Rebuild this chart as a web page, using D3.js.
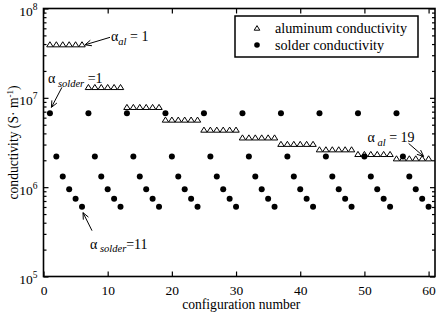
<!DOCTYPE html>
<html><head><meta charset="utf-8">
<script src="https://cdn.jsdelivr.net/npm/d3@7/dist/d3.min.js"></script>
<style>
body{margin:0;background:#fff}
svg{display:block}
svg text{font-family:"Liberation Serif","Times New Roman",Times,serif}
</style>
</head><body>
<svg id="c" width="442" height="314"></svg>
<script>
// ---- data ----
const configNumbers = [1,2,3,4,5,6,7,8,9,10,11,12,13,14,15,16,17,18,19,20,
  21,22,23,24,25,26,27,28,29,30,31,32,33,34,35,36,37,38,39,40,
  41,42,43,44,45,46,47,48,49,50,51,52,53,54,55,56,57,58,59,60];
const aluminumConductivity = [
  3.97e7,3.97e7,3.97e7,3.97e7,3.97e7,3.97e7,
  1.32e7,1.32e7,1.32e7,1.32e7,1.32e7,1.32e7,
  7.9e6,7.9e6,7.9e6,7.9e6,7.9e6,7.9e6,
  5.7e6,5.7e6,5.7e6,5.7e6,5.7e6,5.7e6,
  4.4e6,4.4e6,4.4e6,4.4e6,4.4e6,4.4e6,
  3.6e6,3.6e6,3.6e6,3.6e6,3.6e6,3.6e6,
  3.05e6,3.05e6,3.05e6,3.05e6,3.05e6,3.05e6,
  2.65e6,2.65e6,2.65e6,2.65e6,2.65e6,2.65e6,
  2.35e6,2.35e6,2.35e6,2.35e6,2.35e6,2.35e6,
  2.1e6,2.1e6,2.1e6,2.1e6,2.1e6,2.1e6];
const solderConductivity = [
  6.7e6,2.2e6,1.32e6,9.5e5,7.4e5,6.05e5,
  6.7e6,2.2e6,1.32e6,9.5e5,7.4e5,6.05e5,
  6.7e6,2.2e6,1.32e6,9.5e5,7.4e5,6.05e5,
  6.7e6,2.2e6,1.32e6,9.5e5,7.4e5,6.05e5,
  6.7e6,2.2e6,1.32e6,9.5e5,7.4e5,6.05e5,
  6.7e6,2.2e6,1.32e6,9.5e5,7.4e5,6.05e5,
  6.7e6,2.2e6,1.32e6,9.5e5,7.4e5,6.05e5,
  6.7e6,2.2e6,1.32e6,9.5e5,7.4e5,6.05e5,
  6.7e6,2.2e6,1.32e6,9.5e5,7.4e5,6.05e5,
  6.7e6,2.2e6,1.32e6,9.5e5,7.4e5,6.05e5];
const xTickValues = [0,10,20,30,40,50,60];
const yTickExponents = [5,6,7,8];
const seriesNames = ["aluminum conductivity","solder conductivity"];
const xLabel = "configuration number";

// annotations: anchored to a data point, offsets in px
const annotations = [
  {config:6, value:3.97e7, sym:"α", sub:"al", rest:" = 1",
   tip:[3,0.5], tail:[28,-7], text:[29,-3]},
  {config:1, value:6.7e6, sym:"α", sub:" solder", rest:" =1",
   tip:[1.5,-6], tail:[12,-26], text:[-2,-30]},
  {config:6, value:6.05e5, sym:"α", sub:" solder", rest:"=11",
   tip:[1,6], tail:[10,24], text:[8,42]},
  {config:60, value:2.1e6, sym:"α", sub:" al", rest:" = 19",
   tip:[-5,-2], tail:[-20,-15], text:[-61,-16]}
];

// ---- layout ----
const svg = d3.select("#c");
const L = 43.5, R = 435, T = 8.5, B = 276.5;
const x = d3.scaleLinear().domain([0,61]).range([L, R]);
const y = d3.scaleLog().domain([1e5,1e8]).range([B, T]);

const majorY = yTickExponents.map(e => Math.pow(10,e));
const minorY = [];
for (let e = 5; e < 8; e++) for (let k = 2; k <= 9; k++) minorY.push(k*Math.pow(10,e));

function styleAxis(g){
  g.attr("font-family",null).attr("font-size",null);
  g.select(".domain").remove();
  g.selectAll("line").attr("stroke","#000").attr("stroke-width",1.2);
}
// bottom
svg.append("g").attr("transform",`translate(0,${B})`)
  .call(d3.axisBottom(x).tickValues(xTickValues).tickSizeInner(-5).tickSizeOuter(0).tickPadding(9))
  .call(styleAxis)
  .call(g=>g.selectAll("text").attr("font-size","13.5px").attr("fill","#000"));
// top
svg.append("g").attr("transform",`translate(0,${T})`)
  .call(d3.axisTop(x).tickValues(xTickValues).tickSizeInner(-5).tickSizeOuter(0).tickFormat(()=>""))
  .call(styleAxis);
// left major / minor
const leftMajor = svg.append("g").attr("transform",`translate(${L},0)`)
  .call(d3.axisLeft(y).tickValues(majorY).tickSizeInner(-5).tickSizeOuter(0).tickFormat(()=>""))
  .call(styleAxis);
svg.append("g").attr("transform",`translate(${L},0)`)
  .call(d3.axisLeft(y).tickValues(minorY).tickSizeInner(-3).tickSizeOuter(0).tickFormat(()=>""))
  .call(styleAxis);
svg.append("g").attr("transform",`translate(${R},0)`)
  .call(d3.axisRight(y).tickValues(majorY).tickSizeInner(-5).tickSizeOuter(0).tickFormat(()=>""))
  .call(styleAxis);
svg.append("g").attr("transform",`translate(${R},0)`)
  .call(d3.axisRight(y).tickValues(minorY).tickSizeInner(-3).tickSizeOuter(0).tickFormat(()=>""))
  .call(styleAxis);
// y tick labels 10^e
leftMajor.selectAll(".tick").each(function(d){
  const t = d3.select(this).append("text").attr("x",-6).attr("y",7)
    .attr("text-anchor","end").attr("fill","#000").attr("font-size","13.5px");
  t.append("tspan").text("10");
  t.append("tspan").attr("dy",-6).attr("font-size","9.5px").text(Math.round(Math.log10(d)));
});

// frame
svg.append("rect").attr("x",L).attr("y",T).attr("width",R-L).attr("height",B-T)
  .attr("fill","none").attr("stroke","#000").attr("stroke-width",1.6);

// axis labels
svg.append("text").attr("x",(L+R)/2+2).attr("y",309).attr("text-anchor","middle")
  .attr("font-size","13.6px").text(xLabel);
const yl = svg.append("text").attr("transform",`translate(17.5,${(T+B)/2}) rotate(-90)`)
  .attr("text-anchor","middle").attr("font-size","13.6px");
yl.append("tspan").text("conductivity (S· m");
yl.append("tspan").attr("dy",-5).attr("font-size","9px").text("-1");
yl.append("tspan").attr("dy",5).text(")");

// ---- marks ----
const plot = svg.append("g");
const tri = "M-3.2,2.5L3.2,2.5L0,-2.6Z";
plot.selectAll("path.al").data(configNumbers.map((c,i)=>({c,v:aluminumConductivity[i]})))
  .join("path").attr("class","al").attr("d",tri)
  .attr("transform",d=>`translate(${x(d.c)},${y(d.v)})`)
  .attr("fill","#fff").attr("stroke","#000").attr("stroke-width",1);
plot.selectAll("circle.so").data(configNumbers.map((c,i)=>({c,v:solderConductivity[i]})))
  .join("circle").attr("class","so").attr("cx",d=>x(d.c)).attr("cy",d=>y(d.v))
  .attr("r",3).attr("fill","#000");

// ---- annotations ----
function arrow(x1,y1,x2,y2){
  const a = Math.atan2(y2-y1,x2-x1), len=7, sp=0.42;
  const p1=[x2-len*Math.cos(a-sp), y2-len*Math.sin(a-sp)];
  const p2=[x2-len*Math.cos(a+sp), y2-len*Math.sin(a+sp)];
  return `M${x1},${y1}L${x2},${y2}M${p1[0]},${p1[1]}L${x2},${y2}L${p2[0]},${p2[1]}`;
}
annotations.forEach(a=>{
  const ax = x(a.config), ay = y(a.value);
  svg.append("path").attr("d",arrow(ax+a.tail[0],ay+a.tail[1],ax+a.tip[0],ay+a.tip[1]))
    .attr("fill","none").attr("stroke","#000").attr("stroke-width",1);
  const t = svg.append("text").attr("x",ax+a.text[0]).attr("y",ay+a.text[1])
    .attr("font-size","14px").attr("fill","#000").attr("xml:space","preserve");
  t.append("tspan").text(a.sym);
  t.append("tspan").attr("dy",3.5).attr("font-size","10.5px")
    .attr("font-style","italic").text(a.sub);
  t.append("tspan").attr("dy",-3.5).text(a.rest);
});

// ---- legend ----
const lg = svg.append("g");
lg.append("rect").attr("x",235).attr("y",16).attr("width",183).attr("height",41)
  .attr("fill","#fff").attr("stroke","#000").attr("stroke-width",1.5);
lg.append("path").attr("d","M-2.8,2.2L2.8,2.2L0,-2.4Z").attr("transform","translate(257,28)")
  .attr("fill","#fff").attr("stroke","#000").attr("stroke-width",1);
lg.append("circle").attr("cx",257).attr("cy",45).attr("r",2.8).attr("fill","#000");
lg.append("text").attr("x",275).attr("y",32.5).attr("font-size","14.2px").text(seriesNames[0]);
lg.append("text").attr("x",275).attr("y",49.5).attr("font-size","14.2px").text(seriesNames[1]);
</script>
</body></html>
